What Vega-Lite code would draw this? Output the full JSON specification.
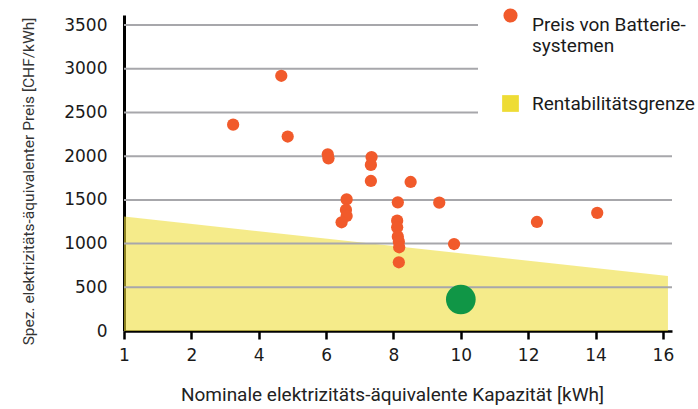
{
  "$schema": "https://vega.github.io/schema/vega-lite/v6.json",
  "width": 548,
  "height": 316,
  "autosize": {"type": "none"},
  "padding": {"left": 124, "top": 15, "right": 26, "bottom": 78},
  "background": "white",
  "config": {"view": {"stroke": null}, "font": "Roboto"},
  "datasets": {
    "preise": [
      {"kap": 3.24, "preis": 2360, "serie": "Preis von Batterie-systemen"},
      {"kap": 4.67, "preis": 2920, "serie": "Preis von Batterie-systemen"},
      {"kap": 4.86, "preis": 2225, "serie": "Preis von Batterie-systemen"},
      {"kap": 6.05, "preis": 2022, "serie": "Preis von Batterie-systemen"},
      {"kap": 6.07, "preis": 1975, "serie": "Preis von Batterie-systemen"},
      {"kap": 7.35, "preis": 1990, "serie": "Preis von Batterie-systemen"},
      {"kap": 7.33, "preis": 1900, "serie": "Preis von Batterie-systemen"},
      {"kap": 7.33, "preis": 1716, "serie": "Preis von Batterie-systemen"},
      {"kap": 8.51, "preis": 1705, "serie": "Preis von Batterie-systemen"},
      {"kap": 6.61, "preis": 1505, "serie": "Preis von Batterie-systemen"},
      {"kap": 6.59, "preis": 1385, "serie": "Preis von Batterie-systemen"},
      {"kap": 6.61, "preis": 1316, "serie": "Preis von Batterie-systemen"},
      {"kap": 6.46, "preis": 1244, "serie": "Preis von Batterie-systemen"},
      {"kap": 8.13, "preis": 1472, "serie": "Preis von Batterie-systemen"},
      {"kap": 9.36, "preis": 1468, "serie": "Preis von Batterie-systemen"},
      {"kap": 8.11, "preis": 1262, "serie": "Preis von Batterie-systemen"},
      {"kap": 8.11, "preis": 1186, "serie": "Preis von Batterie-systemen"},
      {"kap": 8.13, "preis": 1079, "serie": "Preis von Batterie-systemen"},
      {"kap": 8.16, "preis": 1022, "serie": "Preis von Batterie-systemen"},
      {"kap": 8.17, "preis": 958, "serie": "Preis von Batterie-systemen"},
      {"kap": 8.16, "preis": 786, "serie": "Preis von Batterie-systemen"},
      {"kap": 9.8, "preis": 995, "serie": "Preis von Batterie-systemen"},
      {"kap": 12.26, "preis": 1247, "serie": "Preis von Batterie-systemen"},
      {"kap": 14.05, "preis": 1352, "serie": "Preis von Batterie-systemen"}
    ],
    "grenze": [
      {"kap": 0, "preis": 1310, "serie": "Rentabilitätsgrenze"},
      {"kap": 16.15, "preis": 630, "serie": "Rentabilitätsgrenze"}
    ],
    "gitter": [
      {"preis": 500}, {"preis": 1000}, {"preis": 1500}, {"preis": 2000},
      {"preis": 2500}, {"preis": 3000}, {"preis": 3500}
    ],
    "ziel": [{"kap": 10, "preis": 360}]
  },
  "layer": [
    {
      "data": {"name": "grenze"},
      "mark": {"type": "area", "fillOpacity": 0.58},
      "encoding": {
        "x": {
          "field": "kap", "type": "quantitative",
          "scale": {"domain": [0, 16.27], "nice": false, "zero": false},
          "axis": {
            "title": "Nominale elektrizitäts-äquivalente Kapazität [kWh]",
            "values": [0, 2, 4, 6, 8, 10, 12, 14, 16],
            "labelExpr": "datum.value == 0 ? '1' : datum.label",
            "grid": false,
            "domainColor": "black", "domainWidth": 2.5,
            "tickColor": "black", "tickWidth": 2.5, "tickSize": 8,
            "labelFont": "DejaVu Sans", "labelFontSize": 17, "labelColor": "#1a1a1a",
            "labelPadding": 8, "labelFlush": false,
            "titleFont": "Roboto", "titleFontSize": 19, "titleX": 268,
            "titleFontWeight": "normal", "titleColor": "#222222", "titlePadding": 22
          }
        },
        "y": {
          "field": "preis", "type": "quantitative",
          "scale": {"domain": [0, 3615], "nice": false},
          "axis": {
            "title": "Spez. elektrizitäts-äquivalenter Preis [CHF/kWh]",
            "values": [0, 500, 1000, 1500, 2000, 2500, 3000, 3500],
            "format": "d",
            "grid": false, "ticks": false,
            "domainColor": "black", "domainWidth": 3,
            "labelFont": "DejaVu Sans", "labelFontSize": 17, "labelColor": "#1a1a1a",
            "labelPadding": 17,
            "titleFont": "Roboto", "titleFontSize": 15.5, "titleY": 166,
            "titleFontWeight": "normal", "titleColor": "#333333", "titlePadding": 27
          }
        },
        "fill": {
          "field": "serie", "type": "nominal",
          "scale": {"domain": ["Rentabilitätsgrenze"], "range": ["#EEDC35"]},
          "legend": {
            "orient": "none", "legendX": 354, "legendY": 56,
            "title": null, "symbolType": "square", "symbolSize": 280,
            "symbolOpacity": 1, "symbolStrokeWidth": 0,
            "labelFont": "Roboto", "labelFontSize": 19,
            "labelColor": "#1a1a1a", "labelLimit": 300, "labelOffset": 12,
            "labelBaseline": "middle",
            "fillColor": "white", "padding": 23
          }
        }
      }
    },
    {
      "data": {"name": "gitter"},
      "mark": {"type": "rule", "color": "#A7A7AB", "strokeWidth": 2},
      "encoding": {"y": {"field": "preis", "type": "quantitative"}}
    },
    {
      "data": {"name": "preise"},
      "mark": {"type": "point", "filled": true, "opacity": 1, "size": 150},
      "encoding": {
        "x": {"field": "kap", "type": "quantitative"},
        "y": {"field": "preis", "type": "quantitative"},
        "color": {
          "field": "serie", "type": "nominal",
          "scale": {"domain": ["Preis von Batterie-systemen"], "range": ["#F15A2B"]},
          "legend": {
            "orient": "none", "legendX": 354, "legendY": -32,
            "title": null, "symbolType": "circle", "symbolSize": 200,
            "symbolOpacity": 1, "symbolStrokeWidth": 0,
            "labelExpr": "['Preis von Batterie-', 'systemen']",
            "labelFont": "Roboto", "labelFontSize": 19,
            "labelLineHeight": 28,
            "labelColor": "#1a1a1a", "labelLimit": 300, "labelOffset": 12,
            "labelBaseline": "top",
            "fillColor": "white", "padding": 23
          }
        }
      }
    },
    {
      "data": {"name": "ziel"},
      "mark": {"type": "point", "filled": true, "opacity": 1, "size": 880, "color": "#109646"},
      "encoding": {
        "x": {"field": "kap", "type": "quantitative"},
        "y": {"field": "preis", "type": "quantitative"}
      }
    }
  ]
}
